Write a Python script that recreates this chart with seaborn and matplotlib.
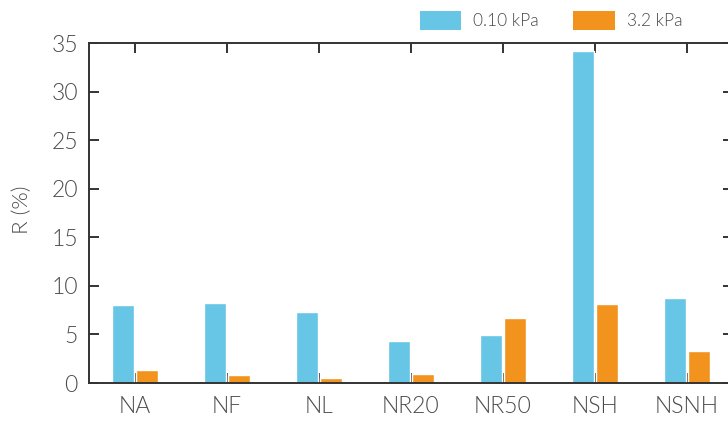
import matplotlib
matplotlib.use("Agg")
import matplotlib.pyplot as plt
import seaborn as sns
import pandas as pd

# Sample groups and measured R (%) at two pressures
samples = ["NA", "NF", "NL", "NR20", "NR50", "NSH", "NSNH"]
r_low = [8.05, 8.25, 7.35, 4.35, 4.95, 34.15, 8.8]     # 0.10 kPa
r_high = [1.35, 0.85, 0.55, 0.95, 6.65, 8.15, 3.25]    # 3.2 kPa
pressures = ["0.10 kPa", "3.2 kPa"]
colors = ["#67C5E5", "#F1931D"]

df = pd.DataFrame({
    "sample": samples * 2,
    "R": r_low + r_high,
    "pressure": [pressures[0]] * len(samples) + [pressures[1]] * len(samples),
})

sns.set_style("white")
plt.rcParams["font.family"] = ["Lato", "DejaVu Sans"]
plt.rcParams["font.weight"] = 300
text_color = "#4a4a4a"
line_color = "#333333"

fig = plt.figure(figsize=(7.28, 4.23), dpi=100)
ax = fig.add_axes([89 / 728, 1 - 383 / 423, 644 / 728, 340 / 423])

sns.barplot(data=df, x="sample", y="R", hue="pressure", order=samples,
            hue_order=pressures, palette=colors, width=0.53, gap=0.08,
            saturation=1, errorbar=None, ax=ax, legend=False)

ax.set_xlim(-0.5, 6.5)
ax.set_ylim(0, 35)
ax.set_yticks(range(0, 36, 5))
ax.set_xlabel("")
ax.set_ylabel("R (%)", fontsize=16, color=text_color, fontweight=300)
ax.yaxis.set_label_coords(-0.088, 0.51)

for side in ["left", "right", "top", "bottom"]:
    ax.spines[side].set_visible(True)
    ax.spines[side].set_color(line_color)
    ax.spines[side].set_linewidth(1.4)

ax.tick_params(axis="both", which="major", direction="in", length=7, width=1.4,
               color=line_color, labelsize=16.5, labelcolor=text_color)
ax.tick_params(axis="y", pad=8, left=True, right=True)
ax.tick_params(axis="x", pad=9, bottom=True, top=True)
for lbl in ax.get_xticklabels() + ax.get_yticklabels():
    lbl.set_fontweight(300)

handles = [plt.Rectangle((0, 0), 1, 1, facecolor=c, edgecolor="none") for c in colors]
leg = fig.legend(handles, pressures, loc="center", bbox_to_anchor=(0.757, 0.9515),
                 ncol=2, frameon=False, handlelength=2.4,
                 handleheight=1.35, handletextpad=0.7, columnspacing=1.95,
                 borderpad=0, prop={"weight": 300, "size": 12.5})
for t in leg.get_texts():
    t.set_color(text_color)

fig.savefig("out.png", dpi=100)
